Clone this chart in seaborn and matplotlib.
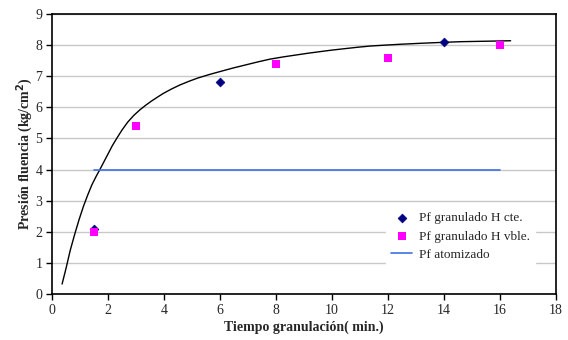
import matplotlib
matplotlib.use("Agg")
import matplotlib.pyplot as plt
import seaborn as sns
import pandas as pd

# Data
cte_x = [1.5, 6, 14]
cte_y = [2.1, 6.8, 8.1]
vble_x = [1.5, 3, 8, 12, 16]
vble_y = [2.0, 5.4, 7.4, 7.6, 8.0]
atom_x = [1.5, 16]
atom_y = [4.0, 4.0]
# trend curve points
curve_x = [0.36, 0.5, 0.65, 0.82, 0.97, 1.12, 1.27, 1.42, 1.57, 1.71, 1.86, 2.0, 2.15, 2.31,
           2.5, 2.7, 2.92, 3.14, 3.35, 3.55, 3.77, 3.98, 4.27, 4.57, 4.9, 5.2, 5.6, 6.0,
           6.45, 6.9, 7.35, 7.79, 8.25, 8.7, 9.15, 9.57, 10.0, 10.5, 10.9, 11.36, 11.9,
           12.5, 13.2, 14.0, 14.6, 15.2, 15.8, 16.38]
curve_y = [0.32, 0.82, 1.4, 1.95, 2.4, 2.81, 3.17, 3.5, 3.77, 4.0, 4.26, 4.5, 4.76, 5.0,
           5.27, 5.52, 5.74, 5.92, 6.07, 6.2, 6.33, 6.45, 6.59, 6.72, 6.84, 6.94, 7.05, 7.15,
           7.26, 7.36, 7.46, 7.55, 7.62, 7.68, 7.74, 7.79, 7.84, 7.89, 7.93, 7.97, 8.0,
           8.03, 8.06, 8.09, 8.11, 8.12, 8.13, 8.14]

sns.set_style("white")
plt.rcParams['font.family'] = ['Liberation Serif', 'DejaVu Serif']

fig = plt.figure(figsize=(5.68, 3.4), dpi=100)
ax = fig.add_axes([52/568, 1-294/340, (556-52)/568, (294-14)/340])

ax.yaxis.grid(True, color="#c8c8c8", linewidth=1.0)
ax.set_axisbelow(True)

df_curve = pd.DataFrame({"x": curve_x, "y": curve_y})
sns.lineplot(data=df_curve, x="x", y="y", ax=ax, color="black", linewidth=1.0,
             sort=False, estimator=None, legend=False)

df_cte = pd.DataFrame({"x": cte_x, "y": cte_y})
sns.scatterplot(data=df_cte, x="x", y="y", ax=ax, marker="D", color="#000080",
                s=20, edgecolor="#000080", linewidth=0.5, label="Pf granulado H cte.", zorder=3)
df_vb = pd.DataFrame({"x": vble_x, "y": vble_y})
sns.scatterplot(data=df_vb, x="x", y="y", ax=ax, marker="s", color="#FF00FF",
                s=38, edgecolor="#FF00FF", linewidth=0, label="Pf granulado H vble.", zorder=4)
df_at = pd.DataFrame({"x": atom_x, "y": atom_y})
sns.lineplot(data=df_at, x="x", y="y", ax=ax, color="#3F6FE6", linewidth=1.2,
             label="Pf atomizado")

ax.set_xlim(0, 18)
ax.set_ylim(0, 9)
ax.set_xticks(range(0, 19, 2))
ax.set_yticks(range(0, 10))
for s in ax.spines.values():
    s.set_color("black")
    s.set_linewidth(1.2)
ax.tick_params(axis="both", direction="out", length=4, width=1, color="black",
               labelsize=10, bottom=True, left=True, pad=3)

ax.set_xlabel("Tiempo granulación( min.)", fontsize=10, fontweight="bold", labelpad=3)
ax.set_ylabel("Presión fluencia (kg/cm$^\\mathbf{2}$)", fontsize=10, fontweight="bold", labelpad=0)

leg = ax.legend(loc="lower right", bbox_to_anchor=(0.972, 0.076), frameon=True,
                fontsize=9.5, handlelength=1.6, handletextpad=0.5, labelspacing=0.45,
                borderpad=0.4, fancybox=False)
leg.get_frame().set_edgecolor("white")
leg.get_frame().set_facecolor("white")
leg.get_frame().set_alpha(1.0)

fig.savefig("out.png", dpi=100)
